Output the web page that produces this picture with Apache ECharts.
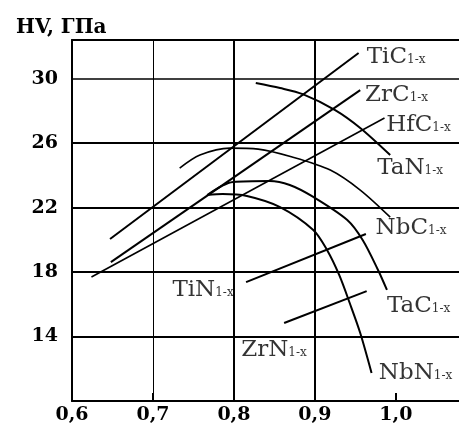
<!DOCTYPE html>
<html>
<head>
<meta charset="utf-8">
<script src="https://cdn.jsdelivr.net/npm/echarts@6/dist/echarts.min.js"></script>
<style>
  html, body { margin: 0; padding: 0; background: #fff; }
  #chart { width: 459px; height: 425px; }
</style>
</head>
<body>
<div id="chart"></div>
<script>
// axis ticks
var xTicks = [0.6, 0.7, 0.8, 0.9, 1.0];
var xTickLabels = ['0,6', '0,7', '0,8', '0,9', '1,0'];
var xGridLines = [0.7, 0.8, 0.9];
var yTicks = [14, 18, 22, 26, 30];

// straight lines  [x, HV]
var tic = [[0.647, 20.05], [0.954, 31.59]];
var zrc = [[0.648, 18.62], [0.956, 29.29]];
var hfc = [[0.624, 17.69], [0.986, 27.56]];
var tin = [[0.815, 17.38], [0.963, 20.36]];
var zrn = [[0.862, 14.84], [0.964, 16.82]];

// curves
var tan = [[0.827, 29.73], [0.857, 29.42], [0.885, 29.04], [0.925, 28.05], [0.956, 26.94], [0.993, 25.26]];
var nbc = [[0.733, 24.45], [0.758, 25.26], [0.795, 25.69], [0.830, 25.63], [0.872, 25.14],
           [0.919, 24.33], [0.956, 23.09], [0.993, 21.41]];
var tac = [[0.767, 22.78], [0.799, 23.59], [0.844, 23.65], [0.869, 23.40], [0.898, 22.66],
           [0.940, 21.23], [0.959, 19.99], [0.978, 18.13], [0.989, 16.89]];
var nbn = [[0.767, 22.78], [0.786, 22.84], [0.816, 22.72], [0.857, 22.03], [0.898, 20.61],
           [0.915, 19.37], [0.930, 17.82], [0.943, 16.08], [0.956, 14.22], [0.970, 11.74]];

// curve names and where their names sit
var names = ['TiC', 'ZrC', 'HfC', 'TaN', 'NbC', 'TaC', 'NbN', 'TiN', 'ZrN'];
var nameAt = [[0.964, 31.34], [0.962, 28.98], [0.988, 27.11], [0.977, 24.45], [0.975, 20.73],
              [0.989, 15.89], [0.979, 11.74], [0.724, 16.89], [0.809, 13.16]];

var font = 'DejaVu Serif';

function lineSeries(data, smooth, width) {
  return {
    type: 'line',
    data: data,
    smooth: smooth,
    showSymbol: false,
    symbol: 'none',
    lineStyle: { color: '#000', width: width || 2 },
    z: 3
  };
}

var myChart = echarts.init(document.getElementById('chart'));

var gridMarks = [];
yTicks.forEach(function (v) {
  gridMarks.push({ yAxis: v, lineStyle: { width: v == 30 ? 1.5 : 2 } });
});
xGridLines.forEach(function (v) {
  gridMarks.push({ xAxis: v, lineStyle: { width: v == 0.7 ? 1 : 2 } });
});

var labelData = names.map(function (n, i) {
  return { name: n, value: nameAt[i] };
});

option = {
  animation: false,
  backgroundColor: '#fff',
  title: {
    text: 'HV, ГПа',
    left: 11,
    top: 13,
    textStyle: { fontFamily: font, fontSize: 20, fontWeight: 'bold', color: '#000' }
  },
  grid: { left: 72, right: 0, top: 40, bottom: 24 },
  xAxis: [{
    type: 'value',
    min: 0.6,
    max: 1.078,
    interval: 0.1,
    axisLine: { lineStyle: { color: '#000', width: 2 } },
    axisTick: { show: true, inside: true, length: 8, lineStyle: { color: '#000', width: 2 } },
    splitLine: { show: false },
    axisLabel: {
      color: '#000',
      fontFamily: font,
      fontSize: 19,
      fontWeight: 'bold',
      margin: 5,
      showMaxLabel: false,
      formatter: function (v) {
        for (var i = 0; i < xTicks.length; i++) {
          if (Math.abs(v - xTicks[i]) < 1e-6) return xTickLabels[i];
        }
        return '';
      }
    }
  }, {
    type: 'value',
    position: 'top',
    min: 0.6,
    max: 1.078,
    axisLine: { show: true, lineStyle: { color: '#000', width: 2 } },
    axisTick: { show: false },
    axisLabel: { show: false },
    splitLine: { show: false }
  }],
  yAxis: {
    type: 'value',
    min: 10,
    max: 32.4,
    interval: 4,
    axisLine: { show: true, lineStyle: { color: '#000', width: 2 } },
    axisTick: { show: false },
    splitLine: { show: false },
    axisLabel: {
      color: '#000',
      fontFamily: font,
      fontSize: 19,
      fontWeight: 'bold',
      margin: 14,
      formatter: function (v) {
        return yTicks.indexOf(v) >= 0 ? String(v) : '';
      }
    }
  },
  series: [
    {
      type: 'line',
      data: [],
      markLine: {
        silent: true,
        symbol: 'none',
        label: { show: false },
        lineStyle: { color: '#000', type: 'solid', width: 2 },
        data: gridMarks
      }
    },
    lineSeries(tic, false),
    lineSeries(zrc, false),
    lineSeries(hfc, false, 1.6),
    lineSeries(tin, false),
    lineSeries(zrn, false),
    lineSeries(tan, 0.3),
    lineSeries(nbc, 0.3, 1.6),
    lineSeries(tac, 0.3),
    lineSeries(nbn, 0.3),
    {
      type: 'scatter',
      data: labelData,
      symbolSize: 0,
      silent: true,
      label: {
        show: true,
        position: 'right',
        distance: 0,
        formatter: function (p) {
          return '{m|' + p.name + '}{s|1-x}';
        },
        rich: {
          m: { fontFamily: font, fontSize: 23, color: '#000' },
          s: { fontFamily: font, fontSize: 12, color: '#000', verticalAlign: 'bottom', padding: [0, 0, 3, 0] }
        }
      }
    }
  ]
};

myChart.setOption(option);
</script>
</body>
</html>
